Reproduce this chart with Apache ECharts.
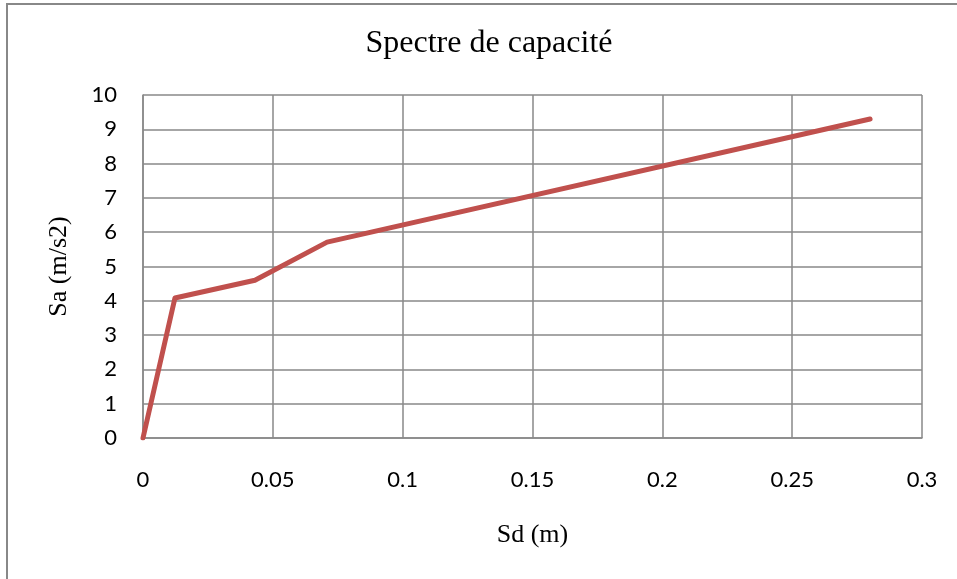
<!DOCTYPE html>
<html><head><meta charset="utf-8">
<script src="https://cdn.jsdelivr.net/npm/echarts@6/dist/echarts.min.js"></script>
<style>html,body{margin:0;padding:0;background:#fff}#c{width:957px;height:579px}</style>
</head><body><div id="c"></div>
<script>
const sd = [0, 0.0123, 0.0431, 0.0709, 0.2800];
const sa = [0, 4.08, 4.60, 5.71, 9.30];
const xTicks = [0, 0.05, 0.1, 0.15, 0.2, 0.25, 0.3];
const yTicks = [0,1,2,3,4,5,6,7,8,9,10];
const titleText = 'Spectre de capacité';
const xName = 'Sd (m)';
const yName = 'Sa (m/s2)';

const chart = echarts.init(document.getElementById('c'), null, {renderer:'canvas'});
const tickFont = {fontFamily:'Lato, "Open Sans", sans-serif', fontSize:22, color:'#000'};
const serifName = {fontFamily:'"Liberation Serif", serif', fontSize:26, color:'#000'};
chart.setOption({
  animation:false,
  backgroundColor:'#fff',
  title:{text:titleText, left:484, textAlign:'center', top:23, textStyle:{fontFamily:'"Liberation Serif", serif', fontSize:32, fontWeight:'normal', color:'#000'}},
  graphic:[{type:'rect', shape:{x:7,y:4,width:1000,height:700}, style:{fill:'none', stroke:'#888', lineWidth:2}, z:-10}],
  grid:{left:143, top:95, width:779, height:343, containLabel:false},
  xAxis:{type:'value', min:xTicks[0], max:xTicks[xTicks.length-1], interval:0.05,
    name:xName, nameLocation:'middle', nameGap:84,
    nameTextStyle:serifName,
    axisLine:{show:true, lineStyle:{color:'#888', width:1.5}}, axisTick:{show:false},
    axisLabel:Object.assign({margin:31, formatter:v=>String(+v.toFixed(2))}, tickFont),
    splitLine:{show:true, lineStyle:{color:'#888', width:1.5}}},
  yAxis:{type:'value', min:yTicks[0], max:yTicks[yTicks.length-1], interval:1,
    name:yName, nameLocation:'middle', nameGap:71, nameRotate:90,
    nameTextStyle:serifName,
    axisLine:{show:true, lineStyle:{color:'#888', width:1.5}}, axisTick:{show:false},
    axisLabel:Object.assign({margin:26}, tickFont),
    splitLine:{show:true, lineStyle:{color:'#888', width:1.5}}},
  series:[{type:'line', data:sd.map((x,i)=>[x, sa[i]]), showSymbol:false, symbol:'none',
    lineStyle:{color:'#C0504D', width:5, join:'round', cap:'round'}}]
});
</script></body></html>
